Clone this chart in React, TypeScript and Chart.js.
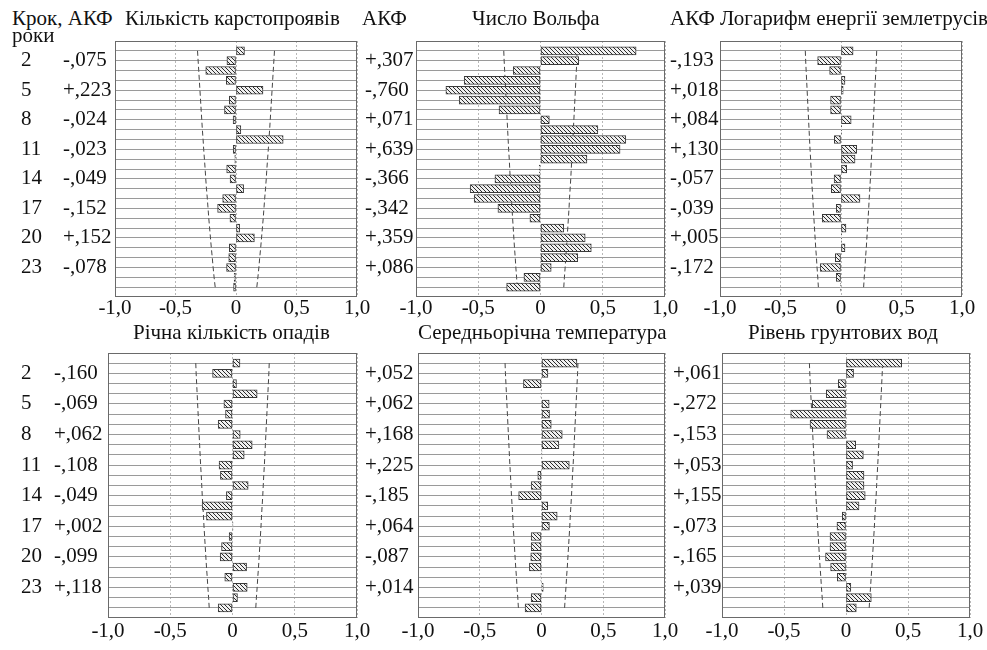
import React, { useEffect, useRef } from 'react';
import { Chart, registerables } from 'chart.js';

Chart.register(...registerables);

// ---------- data ----------
const LAGS = [1, 2, 3, 4, 5, 6, 7, 8, 9, 10, 11, 12, 13, 14, 15, 16, 17, 18, 19, 20, 21, 22, 23, 24, 25];
const LABELLED_LAGS = [2, 5, 8, 11, 14, 17, 20, 23];
const X_TICKS = [-1, -0.5, 0, 0.5, 1];

const karstAcf = [0.07, -0.075, -0.25, -0.08, 0.223, -0.055, -0.095, -0.024, 0.04, 0.39, -0.023, -0.01, -0.077, -0.049, 0.063, -0.11, -0.152, -0.05, 0.03, 0.152, -0.055, -0.06, -0.078, -0.015, -0.02];
const wolfAcf = [0.768, 0.307, -0.219, -0.613, -0.76, -0.653, -0.333, 0.071, 0.461, 0.685, 0.639, 0.373, -0.01, -0.366, -0.565, -0.533, -0.342, -0.085, 0.187, 0.359, 0.408, 0.299, 0.086, -0.133, -0.272];
const quakeAcf = [0.1, -0.193, -0.094, 0.033, 0.018, -0.086, -0.086, 0.084, 0.005, -0.055, 0.13, 0.116, 0.047, -0.057, -0.08, 0.157, -0.039, -0.155, 0.041, 0.005, 0.033, -0.047, -0.172, -0.039, -0.005];
const rainAcf = [0.06, -0.16, 0.032, 0.198, -0.069, -0.056, -0.115, 0.062, 0.158, 0.094, -0.108, -0.097, 0.126, -0.049, -0.244, -0.209, 0.002, -0.027, -0.088, -0.099, 0.113, -0.062, 0.118, 0.04, -0.115];
const tempAcf = [0.287, 0.052, -0.146, -0.004, 0.062, 0.065, 0.079, 0.168, 0.141, 0.003, 0.225, -0.03, -0.084, -0.185, 0.05, 0.127, 0.064, -0.084, -0.084, -0.087, -0.098, -0.005, 0.014, -0.084, -0.133];
const groundAcf = [0.449, 0.061, -0.062, -0.159, -0.272, -0.446, -0.29, -0.153, 0.078, 0.14, 0.053, 0.145, 0.145, 0.155, 0.105, -0.03, -0.073, -0.129, -0.129, -0.165, -0.124, -0.07, 0.039, 0.204, 0.083];

// confidence limits (±), per lag
const confKarst = [0.318, 0.313, 0.308, 0.303, 0.298, 0.293, 0.288, 0.283, 0.278, 0.272, 0.267, 0.261, 0.255, 0.25, 0.244, 0.237, 0.231, 0.225, 0.218, 0.211, 0.204, 0.196, 0.189, 0.181, 0.172];
const confOther = [0.295, 0.292, 0.288, 0.284, 0.28, 0.276, 0.272, 0.268, 0.264, 0.26, 0.256, 0.251, 0.247, 0.243, 0.238, 0.233, 0.229, 0.224, 0.219, 0.214, 0.209, 0.203, 0.198, 0.192, 0.187];

const HEADER_TEXTS = ['Крок, АКФ', 'роки', 'Кількість карстопроявів', 'АКФ', 'Число Вольфа', 'АКФ Логарифм енергії землетрусів', 'Річна кількість опадів', 'Середньорічна температура', 'Рівень грунтових вод'];

// ---------- layout ----------
const SERIF = '"Liberation Serif", "Times New Roman", serif';
const FONT_SIZE = 21;

const TEXT_POS = [
  { x: 12, b: 26 },
  { x: 12, b: 43 },
  { x: 125, b: 26 },
  { x: 362, b: 26 },
  { x: 472, b: 26 },
  { x: 670, b: 26 },
  { x: 133, b: 340 },
  { x: 418, b: 340 },
  { x: 748, b: 340 },
];

type Panel = {
  acf: number[];
  conf: number[];
  left: number; top: number; width: number; height: number;
  pad: { left: number; top: number; right: number; bottom: number };
  lagW: number; accW: number; showLag: boolean; tickPad: number;
};

const PANELS: Panel[] = [
  { acf: karstAcf, conf: confKarst, left: 0, top: 30, width: 377, height: 293, pad: { left: 21, top: 11, right: 20, bottom: 2 }, lagW: 42, accW: 52, showLag: true, tickPad: 1 },
  { acf: wolfAcf, conf: confOther, left: 360, top: 30, width: 325, height: 293, pad: { left: 5, top: 11, right: 20, bottom: 2 }, lagW: 0, accW: 51, showLag: false, tickPad: 1 },
  { acf: quakeAcf, conf: confOther, left: 665, top: 30, width: 322, height: 293, pad: { left: 5, top: 11, right: 25, bottom: 2 }, lagW: 0, accW: 50, showLag: false, tickPad: 1 },
  { acf: rainAcf, conf: confOther, left: 0, top: 340, width: 377, height: 304, pad: { left: 21, top: 13, right: 20, bottom: 2 }, lagW: 33, accW: 54, showLag: true, tickPad: 3 },
  { acf: tempAcf, conf: confOther, left: 360, top: 340, width: 325, height: 304, pad: { left: 5, top: 13, right: 20, bottom: 2 }, lagW: 0, accW: 53, showLag: false, tickPad: 3 },
  { acf: groundAcf, conf: confOther, left: 665, top: 340, width: 322, height: 304, pad: { left: 8, top: 13, right: 17, bottom: 2 }, lagW: 0, accW: 49, showLag: false, tickPad: 3 },
];

function fmtAcf(v: number): string {
  const s = Math.abs(v).toFixed(3).replace(/^0\./, ',');
  return (v >= 0 ? '+' : '-') + s;
}
function fmtX(v: number): string {
  return v === 0 ? '0' : v.toFixed(1).replace('.', ',');
}

function makeHatch(): CanvasPattern | string {
  const c = document.createElement('canvas');
  c.width = 4; c.height = 4;
  const g = c.getContext('2d');
  if (!g) return '#bbb';
  g.fillStyle = '#f0f0f0';
  g.fillRect(0, 0, 4, 4);
  g.strokeStyle = '#2a2a2a';
  g.lineWidth = 1;
  g.beginPath();
  g.moveTo(0, 0); g.lineTo(4, 4);
  g.moveTo(-1, 3); g.lineTo(1, 5);
  g.moveTo(3, -1); g.lineTo(5, 1);
  g.stroke();
  return g.createPattern(c, 'repeat') || '#bbb';
}

const framePlugin = {
  id: 'frame',
  afterDatasetsDraw(chart: any) {
    const { ctx, chartArea } = chart;
    const { left, top, right, bottom } = chartArea;
    ctx.save();
    ctx.strokeStyle = '#6a6a6a';
    ctx.lineWidth = 1;
    ctx.setLineDash([]);
    ctx.strokeRect(Math.round(left) + 0.5, Math.round(top) + 0.5, Math.round(right - left) - 1, Math.round(bottom - top) - 1);
    ctx.restore();
  },
};

function PanelChart({ p }: { p: Panel }) {
  const ref = useRef<HTMLCanvasElement | null>(null);
  useEffect(() => {
    const canvas = ref.current;
    if (!canvas) return;
    const hatch = makeHatch();
    const font = { family: SERIF, size: FONT_SIZE, lineHeight: 1 };
    const yBase = { type: 'linear', min: 0, max: 26, reverse: true, position: 'left', offset: false, bounds: 'data' };
    const scales: any = {
      x: {
        type: 'linear', min: -1, max: 1, position: 'bottom', offset: false,
        afterBuildTicks: (s: any) => { s.ticks = X_TICKS.map((v) => ({ value: v })); },
        afterFit: (s: any) => { s.height = 24; },
        grid: { color: '#b8b8b8', lineWidth: 1, drawTicks: false, offset: false },
        border: { display: false, dash: [2, 2] },
        ticks: { padding: p.tickPad, color: '#111', font, maxRotation: 0, autoSkip: false, callback: (v: any) => fmtX(Number(v)) },
      },
      y: {
        ...yBase, weight: 0,
        afterBuildTicks: (s: any) => { s.ticks = LAGS.map((v) => ({ value: v })); },
        afterFit: (s: any) => { s.width = p.accW; },
        grid: { color: '#9a9a9a', lineWidth: 1, drawTicks: false, offset: false },
        border: { display: false },
        ticks: {
          crossAlign: 'far', padding: 0, autoSkip: false, color: '#111', font,
          callback: (v: any) => (LABELLED_LAGS.includes(Number(v)) ? fmtAcf(p.acf[LAGS.indexOf(Number(v))]) : ''),
        },
      },
    };
    if (p.showLag) {
      scales.yLag = {
        ...yBase, weight: 1,
        afterBuildTicks: (s: any) => { s.ticks = LABELLED_LAGS.map((v) => ({ value: v })); },
        afterFit: (s: any) => { s.width = p.lagW; },
        grid: { display: false, drawTicks: false, offset: false },
        border: { display: false },
        ticks: { crossAlign: 'far', padding: 0, autoSkip: false, color: '#111', font, callback: (v: any) => String(v) },
      };
    }
    const chart = new Chart(canvas, {
      type: 'bar',
      data: {
        datasets: [
          {
            type: 'bar',
            data: LAGS.map((l, i) => ({ x: p.acf[i], y: l })),
            backgroundColor: hatch as any,
            borderColor: '#3a3a3a',
            borderWidth: 1,
            borderSkipped: false,
            barThickness: 8,
            xAxisID: 'x', yAxisID: 'y',
          } as any,
          {
            type: 'line',
            data: LAGS.map((l, i) => ({ x: -p.conf[i], y: l })),
            borderColor: '#444',
            borderWidth: 1,
            borderDash: [5, 3],
            pointRadius: 0,
            fill: false,
            xAxisID: 'x', yAxisID: 'y',
          } as any,
          {
            type: 'line',
            data: LAGS.map((l, i) => ({ x: p.conf[i], y: l })),
            borderColor: '#444',
            borderWidth: 1,
            borderDash: [5, 3],
            pointRadius: 0,
            fill: false,
            xAxisID: 'x', yAxisID: 'y',
          } as any,
        ],
      },
      options: {
        indexAxis: 'y',
        responsive: false,
        animation: false,
        events: [],
        layout: { padding: p.pad },
        plugins: { legend: { display: false }, tooltip: { enabled: false }, title: { display: false } },
        scales,
      } as any,
      plugins: [framePlugin],
    });
    return () => chart.destroy();
  }, [p]);
  return (
    <canvas
      ref={ref}
      width={p.width}
      height={p.height}
      style={{ position: 'absolute', left: p.left, top: p.top, width: p.width, height: p.height }}
    />
  );
}

export default function App() {
  return (
    <div style={{ position: 'absolute', left: 0, top: 0, width: 987, height: 650, background: '#fff', overflow: 'hidden' }}>
      {PANELS.map((p, i) => (
        <PanelChart key={i} p={p} />
      ))}
      {HEADER_TEXTS.map((t, i) => (
        <div
          key={'t' + i}
          style={{
            position: 'absolute',
            left: TEXT_POS[i].x,
            top: TEXT_POS[i].b - 18,
            fontFamily: SERIF,
            fontSize: FONT_SIZE,
            lineHeight: FONT_SIZE + 'px',
            color: '#111',
            whiteSpace: 'nowrap',
          }}
        >
          {t}
        </div>
      ))}
    </div>
  );
}
